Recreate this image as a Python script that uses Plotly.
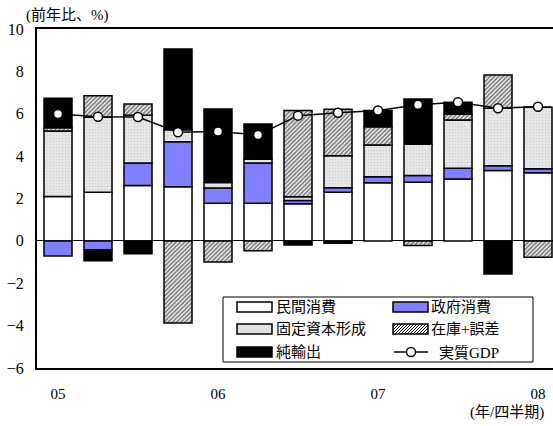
import plotly.graph_objects as go

# Quarterly contributions to real GDP growth (y/y, %)
quarters = ["05Q1", "05Q2", "05Q3", "05Q4", "06Q1", "06Q2", "06Q3", "06Q4",
            "07Q1", "07Q2", "07Q3", "07Q4", "08Q1"]
private_consumption = [2.09, 2.30, 2.61, 2.56, 1.78, 1.78, 1.75, 2.30, 2.74, 2.77, 2.92, 3.32, 3.21]
government_consumption = [-0.71, -0.42, 1.06, 2.12, 0.71, 1.89, 0.15, 0.21, 0.29, 0.31, 0.51, 0.22, 0.19]
fixed_investment = [3.10, 3.53, 2.26, 0.56, 0.26, 0.18, 0.18, 1.51, 1.50, 1.48, 2.28, 2.72, 2.91]
inventories_error = [0.15, 1.02, 0.53, -3.88, -1.00, -0.47, 4.07, 2.19, 0.86, -0.22, 0.27, 1.57, -0.77]
net_exports = [1.39, -0.52, -0.61, 3.82, 3.48, 1.67, -0.19, -0.11, 0.76, 2.14, 0.56, -1.56, 0.00]
real_gdp = [5.99, 5.86, 5.85, 5.13, 5.16, 5.00, 5.91, 6.05, 6.15, 6.42, 6.54, 6.26, 6.33]

year_ticks = ["05Q1", "06Q1", "07Q1", "08Q1"]
year_labels = ["05", "06", "07", "08"]
y_ticks = [-6, -4, -2, 0, 2, 4, 6, 8, 10]

FONT = "Liberation Serif, Noto Sans CJK JP, serif"
EDGE = dict(color="black", width=1.5)
W, H = 553, 426
M_L, M_R, M_T, M_B = 37, 0, 29, 58
PLOT_W, PLOT_H = W - M_L - M_R, H - M_T - M_B

GRAY_PATTERN = dict(shape=".", fgcolor="#b8b8b8", bgcolor="#e8e8e8", size=3, solidity=0.25)
HATCH_PATTERN = dict(shape="/", fgcolor="black", bgcolor="white", size=3, solidity=0.6)

fig = go.Figure()
fig.add_bar(x=quarters, y=private_consumption, name="民間消費",
            marker=dict(color="white", line=EDGE))
fig.add_bar(x=quarters, y=government_consumption, name="政府消費",
            marker=dict(color="#8080ff", line=EDGE))
fig.add_bar(x=quarters, y=fixed_investment, name="固定資本形成",
            marker=dict(color="#e4e4e4", line=EDGE, pattern=GRAY_PATTERN))
fig.add_bar(x=quarters, y=inventories_error, name="在庫+誤差",
            marker=dict(color="white", line=EDGE, pattern=HATCH_PATTERN))
fig.add_bar(x=quarters, y=net_exports, name="純輸出",
            marker=dict(color="black", line=EDGE))
fig.add_scatter(x=quarters, y=real_gdp, name="実質GDP", mode="lines+markers",
                line=dict(color="black", width=1.5),
                marker=dict(size=9, color="white", line=dict(color="black", width=1.5)))


# ---- key box drawn in paper coordinates (pixel helpers relative to the plot area)
def px(x):
    return (x - M_L) / PLOT_W


def py(y):
    return (H - M_B - y) / PLOT_H


shapes = []
annotations = []

shapes.append(dict(type="rect", xref="paper", yref="paper", layer="above",
                   x0=px(223), x1=px(533), y0=py(362), y1=py(297),
                   line=dict(color="black", width=1), fillcolor="white"))

row_y = [307, 329, 352]
col_x = [237, 393]
sw_w, sw_h = 35, 10


def swatch(x0, yc, fill):
    shapes.append(dict(type="rect", xref="paper", yref="paper", layer="above",
                       x0=px(x0), x1=px(x0 + sw_w), y0=py(yc + sw_h / 2), y1=py(yc - sw_h / 2),
                       line=dict(color="black", width=1.5), fillcolor=fill))


def hatch_swatch(x0, yc):
    yb, yt = yc + sw_h / 2, yc - sw_h / 2
    segs = []
    for k in range(-sw_h, sw_w, 3):
        t0, t1 = max(0, -k), min(sw_h, sw_w - k)
        if t1 <= t0:
            continue
        xa, ya = x0 + k + t0, yb - t0
        xb, yb2 = x0 + k + t1, yb - t1
        segs.append(f"M{px(xa):.5f},{py(ya):.5f}L{px(xb):.5f},{py(yb2):.5f}")
    shapes.append(dict(type="rect", xref="paper", yref="paper", layer="above",
                       x0=px(x0), x1=px(x0 + sw_w), y0=py(yb), y1=py(yt),
                       line=dict(width=0), fillcolor="white"))
    shapes.append(dict(type="path", xref="paper", yref="paper", layer="above",
                       path="".join(segs), line=dict(color="black", width=1)))
    shapes.append(dict(type="rect", xref="paper", yref="paper", layer="above",
                       x0=px(x0), x1=px(x0 + sw_w), y0=py(yb), y1=py(yt),
                       line=dict(color="black", width=1.5), fillcolor="rgba(0,0,0,0)"))


def key_text(x, yc, text):
    annotations.append(dict(text=text, xref="paper", yref="paper", x=px(x), y=py(yc),
                            xanchor="left", yanchor="middle", showarrow=False,
                            font=dict(size=15)))


swatch(col_x[0], row_y[0], "white")
key_text(274, row_y[0], "民間消費")
swatch(col_x[1], row_y[0], "#8080ff")
key_text(429, row_y[0], "政府消費")
swatch(col_x[0], row_y[1], "#e2e2e2")
key_text(274, row_y[1], "固定資本形成")
hatch_swatch(col_x[1], row_y[1])
key_text(429, row_y[1], "在庫+誤差")
swatch(col_x[0], row_y[2], "black")
key_text(274, row_y[2], "純輸出")
# line + circle key for GDP
shapes.append(dict(type="line", xref="paper", yref="paper", layer="above",
                   x0=px(394), x1=px(428), y0=py(row_y[2]), y1=py(row_y[2]),
                   line=dict(color="black", width=1.5)))
shapes.append(dict(type="circle", xref="paper", yref="paper", layer="above",
                   x0=px(406.5), x1=px(415.5), y0=py(row_y[2] + 4.5), y1=py(row_y[2] - 4.5),
                   line=dict(color="black", width=1.5), fillcolor="white"))
key_text(437, row_y[2], "実質GDP")

annotations += [
    dict(text="(前年比、%)", xref="paper", yref="paper", x=px(24), y=py(15),
         xanchor="left", yanchor="middle", showarrow=False, font=dict(size=15)),
    dict(text="(年/四半期)", xref="paper", yref="paper", x=px(546), y=py(412),
         xanchor="right", yanchor="middle", showarrow=False, font=dict(size=15)),
]

fig.update_layout(
    width=W, height=H,
    margin=dict(l=M_L, r=M_R, t=M_T, b=M_B),
    barmode="relative", bargap=0.3,
    plot_bgcolor="white", paper_bgcolor="white",
    font=dict(family=FONT, size=14, color="black"),
    showlegend=False,
    xaxis=dict(type="category", range=[-0.525, 12.375],
               tickmode="array", tickvals=year_ticks, ticktext=year_labels,
               ticks="", ticklabelstandoff=11, tickfont=dict(size=15),
               showline=True, linecolor="black", linewidth=2, mirror=True,
               showgrid=False, zeroline=False),
    yaxis=dict(range=[-6, 10], tickmode="array", tickvals=y_ticks,
               ticks="", ticklabelstandoff=8, tickfont=dict(size=16),
               showline=True, linecolor="black", linewidth=2, mirror=False,
               showgrid=False, zeroline=True, zerolinecolor="black", zerolinewidth=1),
    shapes=shapes,
    annotations=annotations,
)

fig.write_html("out.html")
